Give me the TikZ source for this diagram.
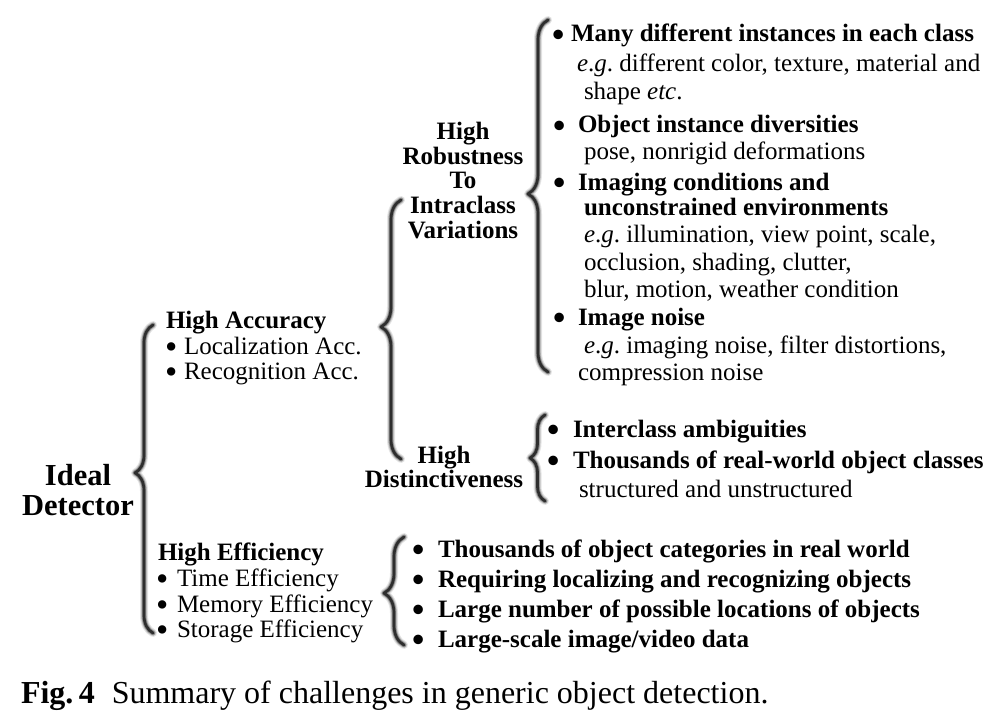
\documentclass[tikz,border=0pt]{standalone}
\usepackage{fontspec}
\setmainfont{Liberation Serif}
\usetikzlibrary{decorations.pathreplacing}
\definecolor{bracegray}{HTML}{2E2E2E}
\newcommand{\bul}[1]{\makebox[#1][l]{\raisebox{-4.5pt}{\scalebox{1.4}{•}}}}
\newcommand{\eg}{\textit{e}.\textit{g}.}
\newcommand{\mybrace}[4]{%
  \foreach \w/\o in {8/0.10, 6/0.15, 4.4/0.30} {%
    \draw[line width=\w pt, draw=black, opacity=\o, line cap=round, line join=round,
      decorate, decoration={brace, amplitude=#3, aspect=#4}] (#1) -- (#2);}
  \draw[line width=2.7pt, draw=bracegray, line cap=round, line join=round,
    decorate, decoration={brace, amplitude=#3, aspect=#4}] (#1) -- (#2);
}
\frenchspacing
\begin{document}
\begin{tikzpicture}[x=1pt,y=-1pt,
  t/.style={anchor=base west, inner sep=0pt, outer sep=0pt, text height=16pt, text depth=3pt, font=\fontsize{25}{25}\selectfont},
  tb/.style={t, font=\fontsize{25}{25}\selectfont\bfseries},
  tc/.style={anchor=base, inner sep=0pt, outer sep=0pt, text height=16pt, text depth=3pt, font=\fontsize{25}{25}\selectfont\bfseries},
  big/.style={anchor=base, inner sep=0pt, outer sep=0pt, text height=20pt, text depth=4pt, font=\fontsize{30.5}{30.5}\selectfont\bfseries},
  captxt/.style={anchor=base west, inner sep=0pt, outer sep=0pt, font=\fontsize{32}{32}\selectfont}]
\fill[white] (0,0) rectangle (998,722);
\useasboundingbox (0,0) rectangle (998,722);

% root
\node[big] (ideal) at (78,485) {Ideal};
\node[big] (detector) at (78,515) {Detector};

% level 1
\node[tb] (acc) at (166,328) {High Accuracy};
\node[t] (acc1) at (165,354) {\bul{19pt}Localization Acc.};
\node[t] (acc2) at (165,379) {\bul{19pt}Recognition Acc.};
\node[tb] (eff) at (158,560) {High Efficiency};
\node[t] (eff1) at (156,586) {\bul{21pt}Time Efficiency};
\node[t] (eff2) at (156,612) {\bul{21pt}Memory Efficiency};
\node[t] (eff3) at (156,637) {\bul{21pt}Storage Efficiency};

% level 2
\node[tc] (rob1) at (463,140) {High};
\node[tc] (rob2) at (463,165) {Robustness};
\node[tc] (rob3) at (463,189) {To};
\node[tc] (rob4) at (463,214) {Intraclass};
\node[tc] (rob5) at (463,238) {Variations};
\node[tc] (dis1) at (444,463) {High};
\node[tc] (dis2) at (444,487) {Distinctiveness};

% robustness items
\node[tb] (c1) at (552,42) {\bul{19pt}Many different instances in each class};
\node[t] (c2) at (577,72) {\eg{} different color, texture, material and};
\node[t] (c3) at (584,100) {shape \textit{etc}.};
\node[tb] (c4) at (553,133) {\bul{25pt}Object instance diversities};
\node[t] (c5) at (584,160) {pose, nonrigid deformations};
\node[tb] (c6) at (553,190) {\bul{25pt}Imaging conditions and};
\node[tb] (c7) at (584,215) {unconstrained environments};
\node[t] (c8) at (584,242) {\eg{} illumination, view point, scale,};
\node[t] (c9) at (584,270) {occlusion, shading, clutter,};
\node[t] (c10) at (584,297) {blur, motion, weather condition};
\node[tb] (c11) at (553,325) {\bul{25pt}Image noise};
\node[t] (c12) at (584,353) {\eg{} imaging noise, filter distortions,};
\node[t] (c13) at (578,380) {compression noise};

% distinctiveness items
\node[tb] (d1) at (547,437) {\bul{26pt}Interclass ambiguities};
\node[tb] (d2) at (547,468) {\bul{26pt}Thousands of real-world object classes};
\node[t] (d3) at (579,497) {structured and unstructured};

% efficiency items
\node[tb] (e1) at (412,557) {\bul{26pt}Thousands of object categories in real world};
\node[tb] (e2) at (412,587) {\bul{26pt}Requiring localizing and recognizing objects};
\node[tb] (e3) at (412,617) {\bul{26pt}Large number of possible locations of objects};
\node[tb] (e4) at (412,647) {\bul{26pt}Large-scale image/video data};

% caption
\node[captxt] (caption) at (21,703) {\textbf{Fig.\,4}\hspace{17pt}Summary of challenges in generic object detection.};

% brace end points
\coordinate (Abot) at (153,633); \coordinate (Atop) at (153,325);
\coordinate (Bbot) at (401,459); \coordinate (Btop) at (401,200);
\coordinate (Cbot) at (548,372); \coordinate (Ctop) at (548,20);
\coordinate (Dbot) at (545,501); \coordinate (Dtop) at (545,415);
\coordinate (Ebot) at (404,645); \coordinate (Etop) at (404,537);

\mybrace{Abot}{Atop}{18pt}{0.52}
\mybrace{Bbot}{Btop}{20pt}{0.51}
\mybrace{Cbot}{Ctop}{20pt}{0.506}
\mybrace{Dbot}{Dtop}{15pt}{0.5}
\mybrace{Ebot}{Etop}{20pt}{0.48}
\end{tikzpicture}
\end{document}
